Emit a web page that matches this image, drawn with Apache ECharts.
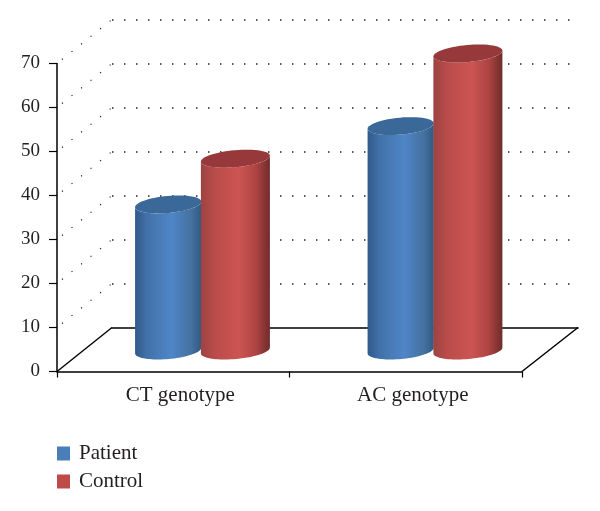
<!DOCTYPE html>
<html><head><meta charset="utf-8">
<style>html,body{margin:0;padding:0;background:#fff}#c{width:600px;height:511px}</style>
<script src="https://cdn.jsdelivr.net/npm/echarts@6/dist/echarts.min.js"></script>
</head><body><div id="c"></div>
<script>
const categories = ['CT genotype', 'AC genotype'];
const patient = [33.2, 51];
const control = [43.6, 67.5];
const wallTicks = [10, 20, 30, 40, 50, 60, 70];
const FONT = '"Liberation Serif", serif';
const INK = '#231f20';
const DX = 55, DY = 44;

const chart = echarts.init(document.getElementById('c'), null, {renderer: 'canvas'});

function ellipsePts(cx, cy, rx, ry, tilt, from, to, n) {
  const pts = [];
  for (let i = 0; i <= n; i++) {
    const t = from + (to - from) * i / n;
    const x = rx * Math.cos(t), y = ry * Math.sin(t);
    pts.push([cx + x * Math.cos(tilt) - y * Math.sin(tilt), cy + x * Math.sin(tilt) + y * Math.cos(tilt)]);
  }
  return pts;
}
function cylinder(offset, radius, stops, topColor) {
  return function (params, api) {
    const i = api.value(0);
    const base = api.coord([i, 0]);
    const top = api.coord([i, api.value(1)]);
    const band = api.size([1, 0])[0];
    const rx = band * radius;
    const ry = 8.5;
    const tilt = -0.09;
    const cx = base[0] + band * offset + DX / 2;
    const yb = base[1] - DY / 2 + 1;
    const yt = top[1] - DY / 2 + 1;
    const lowerTop = ellipsePts(cx, yt, rx, ry, tilt, 0, Math.PI, 40);
    const lowerBase = ellipsePts(cx, yb, rx, ry, tilt, Math.PI, 0, 40);
    return {
      type: 'group',
      children: [
        {type: 'polygon', shape: {points: lowerBase.concat(lowerTop)},
         style: {fill: new echarts.graphic.LinearGradient(0, 0, 1, 0, stops)}},
        {type: 'polygon', shape: {points: ellipsePts(cx, yt, rx, ry, tilt, 0, Math.PI * 2, 60)},
         style: {fill: topColor}}
      ]
    };
  };
}
function sideWall(params, api) {
  const p = api.coord([0, api.value(1)]);
  const band = api.size([1, 0])[0];
  const x0 = p[0] - band / 2;
  return {
    type: 'line',
    shape: {x1: x0 + 5, y1: p[1] - 4, x2: x0 + DX, y2: p[1] - DY},
    style: {stroke: '#222', lineWidth: 1.2, lineDash: [1.2, 11]}
  };
}
function floorEdge(params, api) {
  const p = api.coord([api.value(0), 0]);
  const band = api.size([1, 0])[0];
  const x0 = p[0] + (api.value(0) === 0 ? -band / 2 : band / 2);
  return {
    type: 'line',
    shape: {x1: x0, y1: p[1], x2: x0 + DX + (api.value(0) === 0 ? 0 : 1), y2: p[1] - DY},
    style: {stroke: '#000', lineWidth: 1.5}
  };
}

chart.setOption({
  animation: false,
  backgroundColor: '#fff',
  textStyle: {fontFamily: FONT},
  legend: {
    data: ['Patient', 'Control'], orient: 'vertical', left: 52, top: 438,
    itemWidth: 13, itemHeight: 14, itemGap: 7, icon: 'rect', selectedMode: false,
    textStyle: {fontFamily: FONT, fontSize: 21, color: INK, padding: [0, 0, 0, 4]}
  },
  grid: [
    {left: 57, width: 465, top: 63.5, height: 308},
    {left: 112, width: 466, top: 19.5, height: 308}
  ],
  xAxis: [
    {type: 'category', gridIndex: 0, data: categories,
     axisLine: {lineStyle: {color: '#000', width: 1.5}},
     axisTick: {show: true, length: 6, lineStyle: {color: '#000', width: 1.2}},
     axisLabel: {fontFamily: FONT, fontSize: 21, color: INK, margin: 13, padding: [0, 0, 0, 14]}},
    {type: 'category', gridIndex: 1, data: categories,
     axisLine: {lineStyle: {color: '#000', width: 1.5}},
     axisTick: {show: false}, axisLabel: {show: false}}
  ],
  yAxis: [
    {type: 'value', gridIndex: 0, min: 0, max: 70, interval: 10,
     axisLine: {show: true, lineStyle: {color: '#000', width: 1.5}},
     axisTick: {show: true, length: 8, lineStyle: {color: '#000', width: 1.2}},
     axisLabel: {fontFamily: FONT, fontSize: 19, color: INK, margin: 17},
     splitLine: {show: false}},
    {type: 'value', gridIndex: 1, min: 0, max: 70, interval: 10,
     axisLine: {show: false}, axisTick: {show: false}, axisLabel: {show: false},
     splitLine: {show: true, showMinLine: false, lineStyle: {color: '#222', width: 1.5, type: [1.5, 10.5]}}}
  ],
  series: [
    {type: 'custom', name: 'wall', silent: true, xAxisIndex: 0, yAxisIndex: 0, z: 1,
     data: wallTicks.map(v => [0, v]), renderItem: sideWall, encode: {x: 0, y: 1}},
    {type: 'custom', name: 'floor', silent: true, xAxisIndex: 0, yAxisIndex: 0, z: 1,
     data: [[0, 0], [1, 0]], renderItem: floorEdge, encode: {x: 0, y: 1}},
    {type: 'custom', name: 'Patient', xAxisIndex: 0, yAxisIndex: 0, z: 3,
     itemStyle: {color: '#4a7ebb'},
     data: patient.map((v, i) => [i, v]), encode: {x: 0, y: 1},
     renderItem: cylinder(-0.14, 0.143, [
       {offset: 0, color: '#2f5a8c'}, {offset: 0.18, color: '#4271a8'},
       {offset: 0.55, color: '#4f86c8'}, {offset: 0.85, color: '#44719f'}, {offset: 1, color: '#305a85'}
     ], '#3a6899')},
    {type: 'custom', name: 'Control', xAxisIndex: 0, yAxisIndex: 0, z: 4,
     itemStyle: {color: '#be4b48'},
     data: control.map((v, i) => [i, v]), encode: {x: 0, y: 1},
     renderItem: cylinder(0.149, 0.149, [
       {offset: 0, color: '#9c4342'}, {offset: 0.2, color: '#b94c4a'},
       {offset: 0.55, color: '#cc5552'}, {offset: 0.8, color: '#ae4442'}, {offset: 1, color: '#702b2b'}
     ], '#97393a')}
  ]
});
</script></body></html>
